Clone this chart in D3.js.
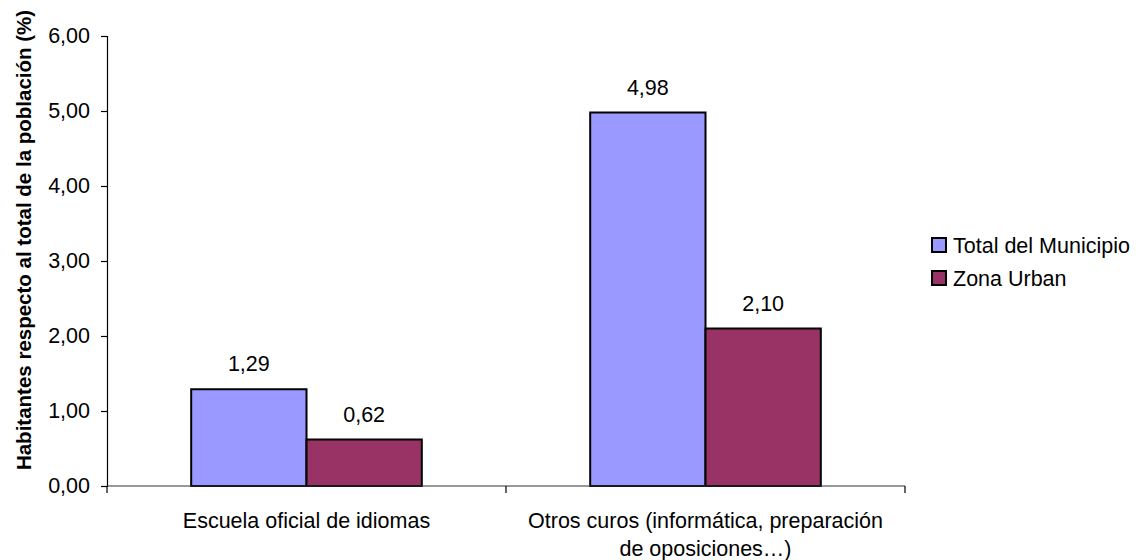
<!DOCTYPE html>
<html><head><meta charset="utf-8">
<script src="https://cdn.jsdelivr.net/npm/d3@7"></script>
<style>body{margin:0;background:#fff}svg{display:block;font-family:Arial,"Liberation Sans",sans-serif}</style>
</head><body><svg id="c" width="1139" height="560"></svg>
<script>
const categories = [["Escuela oficial de idiomas"], ["Otros curos (informática, preparación", "de oposiciones…)"]];
const seriesNames = ["Total del Municipio", "Zona Urban"];
const totalMunicipio = [1.29, 4.98];
const zonaUrban = [0.62, 2.10];
const yTicks = [0, 1, 2, 3, 4, 5, 6];
const colors = ["#9999FF", "#993366"];

const FS = 21.5;
const svg = d3.select("#c");
const L = 107, R = 905, T = 36, B = 486;
const fmt = v => d3.format(".2f")(v).replace(".", ",");
const y = d3.scaleLinear().domain([0, 6]).range([B, T]);
const x0 = d3.scaleBand().domain(d3.range(categories.length)).range([L, R]).paddingInner(0.422).paddingOuter(0.211);
const x1 = d3.scaleBand().domain(d3.range(seriesNames.length)).range([0, x0.bandwidth()]);
const series = [totalMunicipio, zonaUrban];

// y axis
const yAxis = d3.axisLeft(y).tickValues(yTicks).tickFormat(fmt).tickSize(6).tickPadding(11);
const gy = svg.append("g").attr("transform", `translate(${L},0)`).call(yAxis);
gy.select(".domain").attr("stroke", "#000").attr("stroke-width", 1.2);
gy.selectAll(".tick line").attr("stroke", "#000").attr("stroke-width", 1.2);
gy.selectAll(".tick text").attr("font-size", FS).attr("fill", "#000").attr("font-family", "Arial, 'Liberation Sans', sans-serif");

// bars
series.forEach((vals, si) => {
  svg.append("g").selectAll("rect").data(vals).join("rect")
    .attr("x", (d, i) => x0(i) + x1(si))
    .attr("y", d => y(d))
    .attr("width", x1.bandwidth())
    .attr("height", d => B - y(d))
    .attr("fill", colors[si])
    .attr("stroke", "#000").attr("stroke-width", 2);
  svg.append("g").selectAll("text").data(vals).join("text")
    .attr("x", (d, i) => x0(i) + x1(si) + x1.bandwidth() / 2)
    .attr("y", d => y(d) - 18)
    .attr("text-anchor", "middle").attr("font-size", FS).attr("fill", "#000")
    .text(d => fmt(d));
});

// x axis
const xb = d3.scaleLinear().domain([0, categories.length]).range([L, R]);
svg.append("line").attr("x1", L).attr("x2", R).attr("y1", B).attr("y2", B).attr("stroke", "#333").attr("stroke-width", 1.2);
svg.append("g").selectAll("line").data(d3.range(categories.length + 1)).join("line")
  .attr("x1", d => xb(d)).attr("x2", d => xb(d)).attr("y1", B).attr("y2", B + 7)
  .attr("stroke", "#000").attr("stroke-width", 1.2);
const cl = svg.append("g").selectAll("text").data(categories).join("text")
  .attr("text-anchor", "middle").attr("font-size", FS).attr("fill", "#000");
cl.each(function(lines, i) {
  const t = d3.select(this);
  lines.forEach((ln, k) => {
    t.append("tspan").attr("x", x0(i) + x0.bandwidth() / 2).attr("y", 528 + k * 28).text(ln);
  });
});

// y title
svg.append("text").attr("transform", `translate(31,240) rotate(-90)`)
  .attr("text-anchor", "middle").attr("font-size", 20.5).attr("font-weight", "bold").attr("fill", "#000")
  .text("Habitantes respecto al total de la población (%)");

// legend
const lg = svg.append("g").selectAll("g").data(seriesNames).join("g")
  .attr("transform", (d, i) => `translate(932,${238 + i * 33})`);
lg.append("rect").attr("width", 14).attr("height", 14).attr("fill", (d, i) => colors[i]).attr("stroke", "#000").attr("stroke-width", 2);
lg.append("text").attr("x", 21).attr("y", 15).attr("font-size", FS).attr("fill", "#000").text(d => d);
</script></body></html>
